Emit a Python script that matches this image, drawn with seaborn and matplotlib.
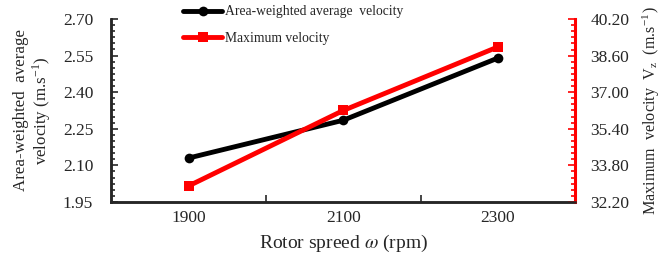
import numpy as np
import pandas as pd
import matplotlib
matplotlib.use('Agg')
import matplotlib.pyplot as plt
import seaborn as sns
from matplotlib.ticker import AutoMinorLocator, FixedLocator, FormatStrFormatter

# Data
speed = ['1900', '2100', '2300']
avg_vel = [2.13, 2.285, 2.54]
max_vel = [32.9, 36.2, 38.98]

df = pd.DataFrame({'speed': speed, 'avg': avg_vel, 'max': max_vel})

sns.set_style('ticks')
plt.rcParams['font.family'] = ['Liberation Serif', 'DejaVu Serif']
plt.rcParams['mathtext.fontset'] = 'stix'

fig, ax = plt.subplots(figsize=(6.62, 2.64), dpi=100)
fig.subplots_adjust(left=0.168, right=0.869, top=0.928, bottom=0.235)
ax2 = ax.twinx()

sns.lineplot(data=df, x='speed', y='avg', ax=ax, color='black', lw=3.5,
             marker='o', markersize=7, markeredgewidth=0,
             label='Area-weighted average  velocity', legend=False)
sns.lineplot(data=df, x='speed', y='max', ax=ax2, color='red', lw=3.5,
             marker='s', markersize=7, markeredgewidth=0,
             label='Maximum velocity', legend=False)

ax.set_xlim(-0.5, 2.5)
ax.set_ylim(1.95, 2.70)
ax.set_yticks(np.arange(1.95, 2.71, 0.15))
ax.yaxis.set_major_formatter(FormatStrFormatter('%.2f'))
ax.yaxis.set_minor_locator(AutoMinorLocator(6))
ax2.set_ylim(32.2, 40.2)
ax2.set_yticks(np.arange(32.2, 40.21, 1.6))
ax2.yaxis.set_major_formatter(FormatStrFormatter('%.2f'))
ax2.yaxis.set_minor_locator(AutoMinorLocator(6))

ax.set_xticks([0, 1, 2])
ax.set_xticklabels(speed)
ax.xaxis.set_minor_locator(FixedLocator([0.5, 1.5]))
ax.tick_params(axis='x', which='major', length=0, pad=6, labelsize=12.5)
ax.tick_params(axis='x', which='minor', direction='in', length=5, width=1.2)
ax.tick_params(axis='y', which='major', direction='in', length=5, width=1.2, labelsize=12.5, pad=13)
ax.tick_params(axis='y', which='minor', direction='in', length=3, width=1.2)
ax2.tick_params(axis='y', which='major', direction='in', length=5, width=1.2,
                color='red', labelsize=12.5, pad=11)
ax2.tick_params(axis='y', which='minor', direction='in', length=3, width=1.2, color='red')

for a in (ax, ax2):
    a.spines['top'].set_visible(False)
    a.spines['left'].set_linewidth(1.8)
    a.spines['bottom'].set_linewidth(1.8)
ax2.spines['right'].set_color('red')
ax2.spines['right'].set_linewidth(2.2)
ax.spines['right'].set_visible(False)

ax.set_xlabel(r'Rotor spreed $\omega$ (rpm)', fontsize=14, labelpad=5)
ax.set_ylabel('Area-weighted  average\nvelocity (m.s$^{\\mathregular{-1}}$)', fontsize=12.2,
              labelpad=7, linespacing=1.1)
ax2.set_ylabel('Maximum  velocity  V$_\\mathregular{z}$  (m.s$^{\\mathregular{-1}}$)', fontsize=11.6,
               labelpad=8)

h1, l1 = ax.get_legend_handles_labels()
h2, l2 = ax2.get_legend_handles_labels()
fig.legend(h1 + h2, l1 + l2, loc='upper left', bbox_to_anchor=(0.268, 1.0),
           frameon=False, fontsize=9.8, handlelength=2.9, handletextpad=0.2,
           labelspacing=1.0, borderaxespad=0)

fig.savefig('out.png', dpi=100)
